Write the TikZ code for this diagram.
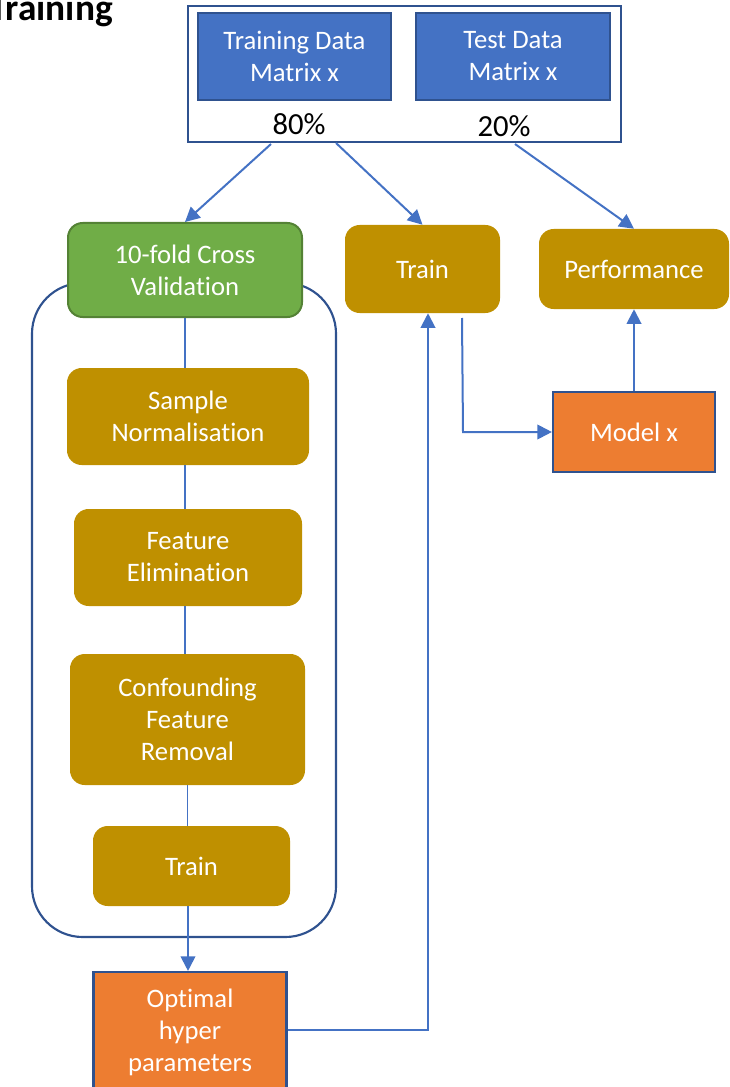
\documentclass[tikz,border=0pt]{standalone}
\usepackage{fontspec}
\setmainfont{Carlito}[Ligatures={NoCommon}]
\usetikzlibrary{arrows.meta}
\definecolor{boxblue}{HTML}{4472C4}
\definecolor{darkblue}{HTML}{2F528F}
\definecolor{gold}{HTML}{BF9000}
\definecolor{cvgreen}{HTML}{70AD47}
\definecolor{cvborder}{HTML}{548235}
\definecolor{orangebox}{HTML}{ED7D31}
\tikzset{
  boxtext/.style={align=center, text=white, font=\fontsize{20}{24}\selectfont, inner sep=0pt},
  goldbox/.style={boxtext, rectangle, rounded corners=11pt, fill=gold},
  bluebox/.style={boxtext, rectangle, fill=boxblue, draw=darkblue, line width=1.5pt},
  greenbox/.style={boxtext, rectangle, rounded corners=11pt, fill=cvgreen, draw=cvborder, line width=1.5pt},
  orangebox/.style={boxtext, rectangle, fill=orangebox, draw=darkblue, line width=1.6pt},
  pct/.style={font=\fontsize{23}{27}\selectfont, inner sep=0pt},
  conn/.style={draw=boxblue, line width=1.5pt},
  thinconn/.style={draw=boxblue, line width=1pt},
  arr/.style={conn, -{Triangle[length=11pt,width=11pt]}},
}
\begin{document}
\begin{tikzpicture}[x=0.75pt,y=-0.75pt]
\useasboundingbox (0,0) rectangle (730,1087);

% title
\node[anchor=base east, font=\fontsize{28}{32}\selectfont\bfseries, inner sep=0pt] (title) at (113,21) {Training};

% top container
\node[rectangle, draw=darkblue, line width=1.5pt, fill=white, minimum width=324.75pt, minimum height=102pt] (outer) at (404.5,74) {};
\node[bluebox, minimum width=144.75pt, minimum height=65.25pt] (traindata) at (294.5,56.5) {Training Data\\Matrix x};
\node[bluebox, minimum width=145.5pt, minimum height=65.25pt] (testdata) at (513,56.5) {Test Data\\Matrix x};
\node[pct] (p80) at (299,124) {80\%};
\node[pct] (p20) at (504,126) {20\%};

% big rounded container (behind CV box)
\node[rectangle, draw=darkblue, line width=1.6pt, rounded corners=38pt, minimum width=228pt, minimum height=490.5pt] (loop) at (184,610) {};

% left column
\node[greenbox, minimum width=175.5pt, minimum height=70.5pt] (cv) at (185,270) {10-fold Cross\\Validation};
\node[goldbox, minimum width=181.5pt, minimum height=72.75pt] (sample) at (188,416.5) {Sample\\Normalisation};
\node[goldbox, minimum width=171pt, minimum height=72.75pt] (feat) at (188,557.5) {Feature\\Elimination};
\node[goldbox, minimum width=176.25pt, minimum height=98.25pt] (conf) at (187.5,719.5) {Confounding\\Feature\\Removal};
\node[goldbox, minimum width=147.75pt, minimum height=60pt] (trainin) at (191.5,866) {Train};
\node[orangebox, minimum width=144.75pt, minimum height=90pt] (optimal) at (190,1032) {Optimal\\hyper\\parameters};

% right part
\node[goldbox, minimum width=116.25pt, minimum height=66pt] (traintop) at (422.5,269) {Train};
\node[goldbox, minimum width=142.5pt, minimum height=60pt] (perf) at (634,269) {Performance};
\node[orangebox, minimum width=121.5pt, minimum height=60pt] (model) at (634,432) {Model x};

% connector start points
\coordinate (s80a) at (271,144);
\coordinate (s80b) at (336,143);
\coordinate (s20) at (515,144);
\coordinate (tdown) at (462,318);
\coordinate (tcorner) at (463,432);
\coordinate (ocorner) at (428,1030);

% arrows from top box
\draw[arr] (s80a) -- (cv.north);
\draw[arr] (s80b) -- (traintop.north);
\draw[arr] (s20) -- (perf.north);

% vertical chain
\draw[thinconn] (cv.south) -- (cv.south |- sample.north);
\draw[thinconn] (sample.south -| cv.south) -- (feat.north -| cv.south);
\draw[thinconn] (feat.south -| cv.south) -- (conf.north -| cv.south);
\draw[thinconn] (conf.south) -- (conf.south |- trainin.north);
\draw[arr] (trainin.south -| 188,0) -- (optimal.north -| 188,0);

% optimal -> train top
\draw[arr] (optimal.east |- ocorner) -- (ocorner) -- (traintop.south -| ocorner);

% train top -> model
\draw[arr] (tdown) -- (tcorner) -- (model.west |- tcorner);

% model -> performance
\draw[arr] (model.north) -- (perf.south);
\end{tikzpicture}
\end{document}
